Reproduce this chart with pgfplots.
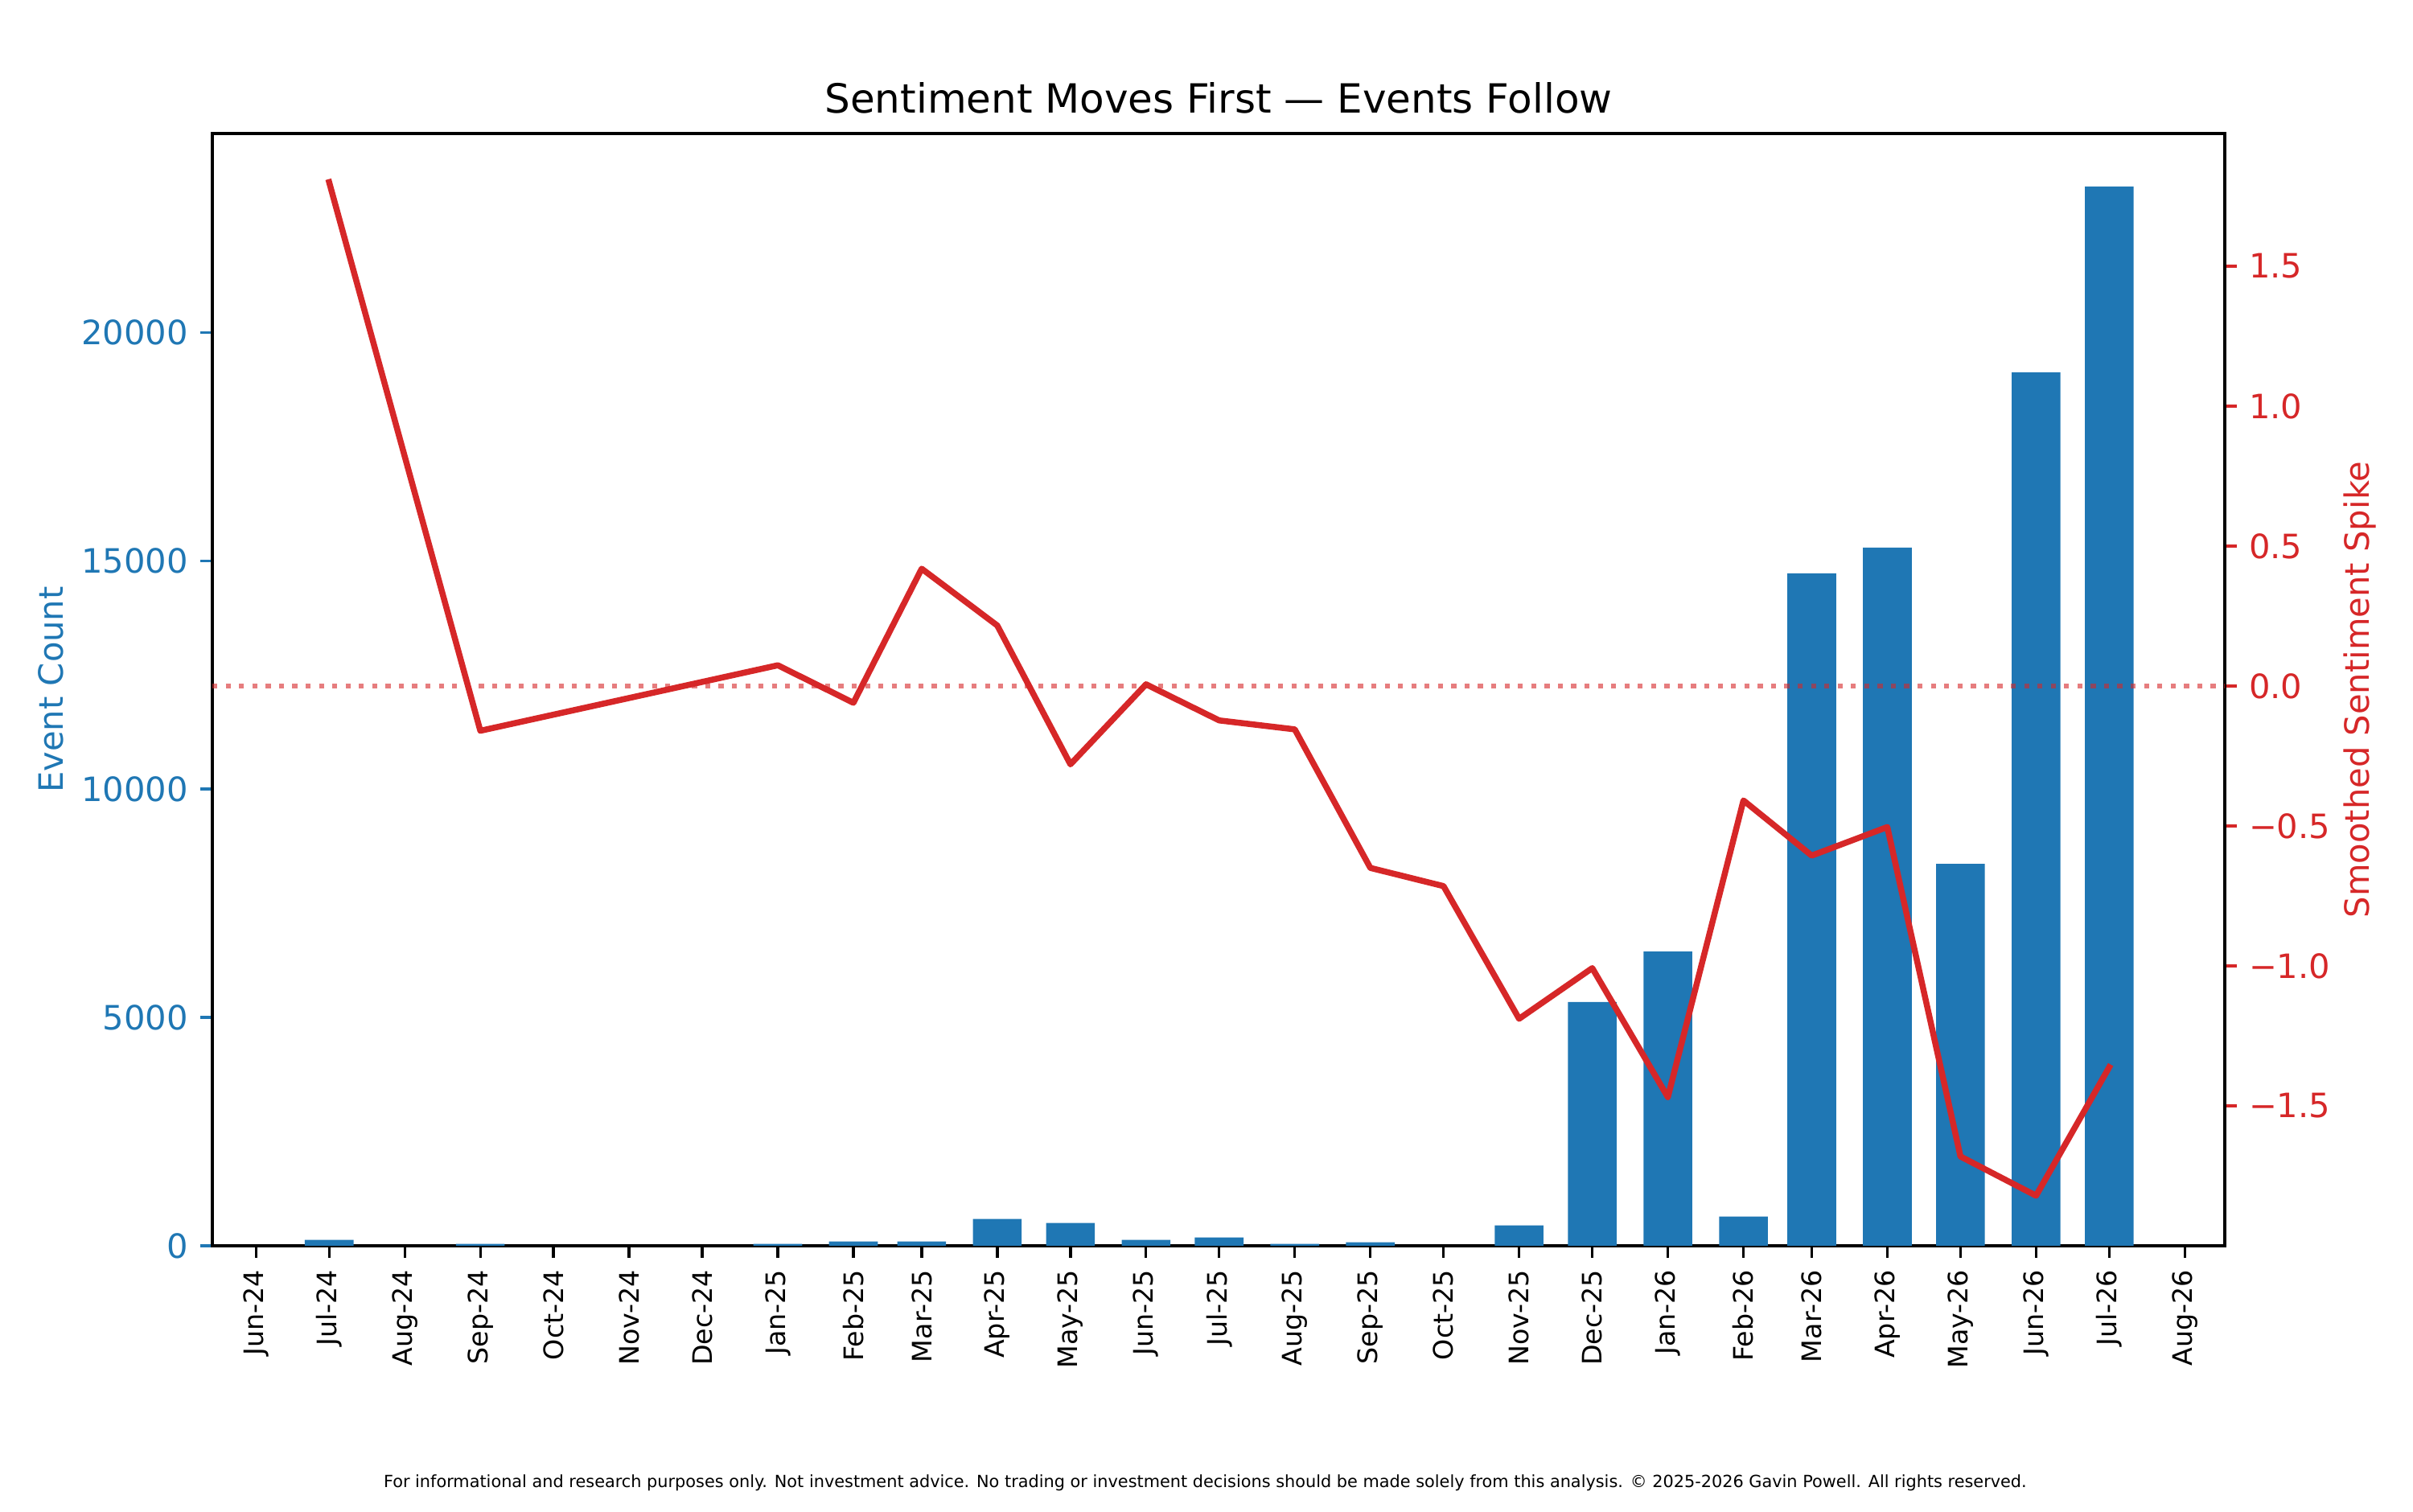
\documentclass[border=0pt]{standalone}
\usepackage{fontspec}
\setmainfont{DejaVu Sans}
\usepackage{pgfplots}
\pgfplotsset{compat=1.18}
\definecolor{cblue}{HTML}{1F77B4}
\definecolor{cred}{HTML}{D62728}

\begin{document}
\begin{tikzpicture}
\useasboundingbox (0,0) rectangle (720pt,451.2pt);
% bars
\begin{axis}[
  at={(63.36pt,79.44pt)}, anchor=south west,
  width=600.48pt, height=331.92pt, scale only axis,
  xmin=-17.9, xmax=807.4, ymin=0, ymax=24355,
  scaled y ticks=false, scaled x ticks=false,
  axis line style={line width=0.8pt, black},
  tick align=outside, major tick length=3.5pt,
  tick style={line width=0.8pt, cblue},
  every x tick/.append style={black},
  xtick pos=bottom, ytick pos=left,
  xtick={0,30,61,92,122,153,183,214,245,273,304,334,365,395,426,457,487,518,548,579,610,638,669,699,730,760,791},
  xticklabels={Jun-24,Jul-24,Aug-24,Sep-24,Oct-24,Nov-24,Dec-24,Jan-25,Feb-25,Mar-25,Apr-25,May-25,Jun-25,Jul-25,Aug-25,Sep-25,Oct-25,Nov-25,Dec-25,Jan-26,Feb-26,Mar-26,Apr-26,May-26,Jun-26,Jul-26,Aug-26},
  xticklabel style={rotate=90, anchor=east, font=\fontsize{8}{9.6}\selectfont, inner sep=3.5pt, text=black},
  ytick={0,5000,10000,15000,20000},
  yticklabels={0,5000,10000,15000,20000},
  yticklabel style={font=\fontsize{10}{12}\selectfont, inner sep=3.5pt, text=cblue},
  minor tick num=0,
]
\addplot[ybar, bar width=20, fill=cblue, draw=none] coordinates {
  (30,129) (92,40) (214,40) (245,93) (273,93) (304,586) (334,498)
  (365,129) (395,181) (426,40) (457,76) (518,446) (548,5336) (579,6442)
  (610,640) (638,14722) (669,15286) (699,8363) (730,19125) (760,23193)
};
\end{axis}
% sentiment line
\begin{axis}[
  at={(63.36pt,79.44pt)}, anchor=south west,
  width=600.48pt, height=331.92pt, scale only axis,
  xmin=-17.9, xmax=807.4, ymin=-2.0, ymax=1.974,
  scaled y ticks=false,
  axis x line=none, axis y line*=right,
  y axis line style={-, line width=0.8pt, black},
  tick align=outside, major tick length=3.5pt,
  tick style={line width=0.8pt, cred},
  ytick={-1.5,-1,-0.5,0,0.5,1,1.5},
  yticklabels={−1.5,−1.0,−0.5,0.0,0.5,1.0,1.5},
  yticklabel style={font=\fontsize{10}{12}\selectfont, inner sep=3.5pt, text=cred},
  minor tick num=0,
]
\addplot[cred, opacity=0.6, line width=1.5pt, dash pattern=on 1.5pt off 2.475pt] coordinates {(-17.9,0) (807.4,0)};
\addplot[cred, line width=1.8pt, line join=round, line cap=rect] coordinates {
  (30,1.80) (92,-0.16) (214,0.074) (245,-0.060) (273,0.419) (304,0.216)
  (334,-0.280) (365,0.006) (395,-0.123) (426,-0.155) (457,-0.650)
  (487,-0.715) (518,-1.189) (548,-1.008) (579,-1.469) (610,-0.409)
  (638,-0.606) (669,-0.504) (699,-1.681) (730,-1.821) (760,-1.362)
};
\end{axis}
\node[anchor=base, font=\fontsize{12}{14.4}\selectfont] at (363.6pt,417.4pt) {Sentiment Moves First — Events Follow};
\node[rotate=90, anchor=center, text=cblue, font=\fontsize{10}{12}\selectfont] at (15.1pt,245.4pt) {Event Count};
\node[rotate=90, anchor=center, text=cred, font=\fontsize{10}{12}\selectfont] at (704.2pt,245.4pt) {Smoothed Sentiment Spike};
\node[anchor=base, font=\fontsize{5}{6}\selectfont] at (359.6pt,7.2pt) {For informational and research purposes only. Not investment advice. No trading or investment decisions should be made solely from this analysis. © 2025-2026 Gavin Powell. All rights reserved.};
\end{tikzpicture}
\end{document}
